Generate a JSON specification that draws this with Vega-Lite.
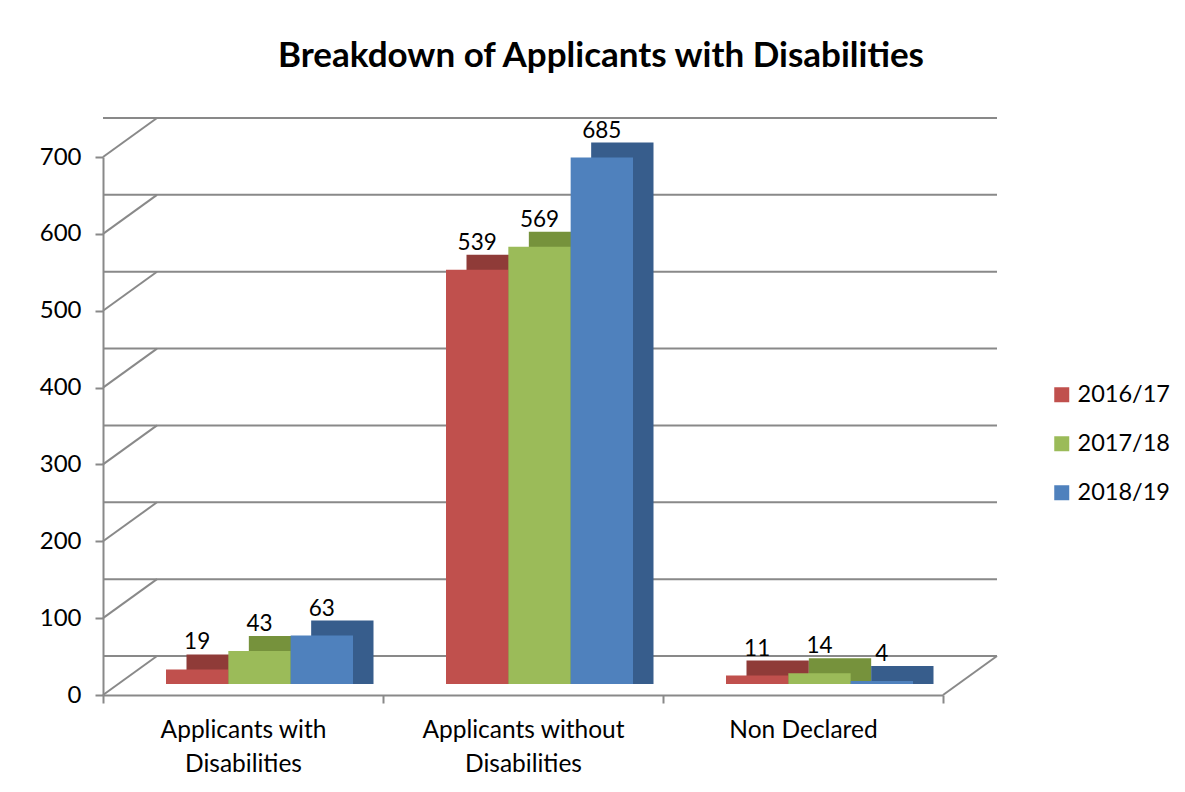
{
  "$schema": "https://vega.github.io/schema/vega-lite/v6.json",
  "autosize": {"type": "none"},
  "width": 840,
  "height": 538,
  "padding": {"left": 103, "top": 157, "right": 242, "bottom": 97},
  "background": "white",
  "config": {"font": "Lato", "view": {"stroke": null}},
  "title": {"text": "Breakdown of Applicants with Disabilities", "font": "Lato", "fontSize": 35, "fontWeight": "bold", "color": "black", "anchor": "middle", "dx": 78, "offset": 43},
  "datasets": {
    "bars": [
      {"category": "Applicants with Disabilities", "year": "2016/17", "value": 19},
      {"category": "Applicants with Disabilities", "year": "2017/18", "value": 43},
      {"category": "Applicants with Disabilities", "year": "2018/19", "value": 63},
      {"category": "Applicants without Disabilities", "year": "2016/17", "value": 539},
      {"category": "Applicants without Disabilities", "year": "2017/18", "value": 569},
      {"category": "Applicants without Disabilities", "year": "2018/19", "value": 685},
      {"category": "Non Declared", "year": "2016/17", "value": 11},
      {"category": "Non Declared", "year": "2017/18", "value": 14},
      {"category": "Non Declared", "year": "2018/19", "value": 4}
    ],
    "grid": [{"v": 0}, {"v": 100}, {"v": 200}, {"v": 300}, {"v": 400}, {"v": 500}, {"v": 600}, {"v": 700}]
  },
  "resolve": {"scale": {"color": "independent", "xOffset": "independent"}},
  "layer": [
    {
      "data": {"name": "grid"},
      "mark": {"type": "rule", "color": "#898989", "strokeWidth": 2, "xOffset": 54, "x2Offset": 54, "yOffset": -39},
      "encoding": {
        "y": {"field": "v", "type": "quantitative", "scale": {"domain": [0, 700], "nice": false}, "axis": {"values": [0, 100, 200, 300, 400, 500, 600, 700], "grid": false, "title": null, "domainColor": "#898989", "domainWidth": 2, "tickColor": "#898989", "tickWidth": 2, "tickSize": 8, "labelFontSize": 24, "labelColor": "black", "labelPadding": 14, "labelFont": "Lato"}}
      }
    },
    {
      "data": {"name": "grid"},
      "mark": {"type": "rule", "color": "#898989", "strokeWidth": 2, "x2Offset": 54, "y2Offset": -39},
      "encoding": {
        "y": {"field": "v", "type": "quantitative"},
        "y2": {"field": "v"},
        "x": {"value": 0},
        "x2": {"value": 0}
      }
    },
    {
      "data": {"name": "grid"},
      "transform": [{"filter": "datum.v == 0"}],
      "mark": {"type": "rule", "color": "#898989", "strokeWidth": 2, "x2Offset": 54, "y2Offset": -39},
      "encoding": {
        "y": {"field": "v", "type": "quantitative"},
        "y2": {"field": "v"},
        "x": {"value": "width"},
        "x2": {"value": "width"}
      }
    },
    {
      "data": {"name": "bars"},
      "mark": {"type": "bar", "yOffset": -26, "y2Offset": -11},
      "encoding": {
        "x": {"field": "category", "type": "nominal", "sort": null, "scale": {"paddingInner": 0, "paddingOuter": 0}, "axis": {"title": null, "labelAngle": 0, "labelFontSize": 24.5, "labelColor": "black", "labelFont": "Lato", "labelLimit": 0, "domainColor": "#898989", "domainWidth": 2, "tickColor": "#898989", "tickWidth": 2, "tickSize": 8, "tickBand": "extent", "labelPadding": 15, "labelLineHeight": 34, "labelExpr": "indexof(datum.label, ' Disabilities') > 0 ? [replace(datum.label, ' Disabilities', ''), 'Disabilities'] : datum.label"}},
        "xOffset": {"field": "year", "type": "nominal", "scale": {"range": [83.5, 270.5]}},
        "y": {"field": "value", "type": "quantitative", "stack": null},
        "y2": {"datum": 0},
        "color": {"field": "year", "type": "nominal", "scale": {"range": ["#8F3B38", "#76923C", "#375D8C"]}, "legend": null}
      }
    },
    {
      "data": {"name": "bars"},
      "mark": {"type": "bar", "yOffset": -11, "y2Offset": -11},
      "encoding": {
        "x": {"field": "category", "type": "nominal", "sort": null},
        "xOffset": {"field": "year", "type": "nominal", "scale": {"range": [63, 250]}},
        "y": {"field": "value", "type": "quantitative", "stack": null},
        "y2": {"datum": 0},
        "color": {"field": "year", "type": "nominal", "scale": {"range": ["#C0504D", "#9BBB59", "#4F81BD"]}, "legend": {"title": null, "orient": "none", "legendX": 947, "legendY": 226, "padding": 0, "symbolType": "square", "symbolSize": 225, "symbolStrokeWidth": 0, "labelFontSize": 23.5, "labelFont": "Lato", "labelColor": "black", "labelOffset": 4, "rowPadding": 24}}
      }
    },
    {
      "data": {"name": "bars"},
      "mark": {"type": "text", "fontSize": 22.5, "font": "Lato", "color": "black", "baseline": "middle", "align": "center", "yOffset": -38},
      "encoding": {
        "x": {"field": "category", "type": "nominal", "sort": null},
        "xOffset": {"field": "year", "type": "nominal", "scale": {"range": [63, 250]}},
        "y": {"field": "value", "type": "quantitative"},
        "text": {"field": "value", "type": "quantitative"}
      }
    }
  ]
}
